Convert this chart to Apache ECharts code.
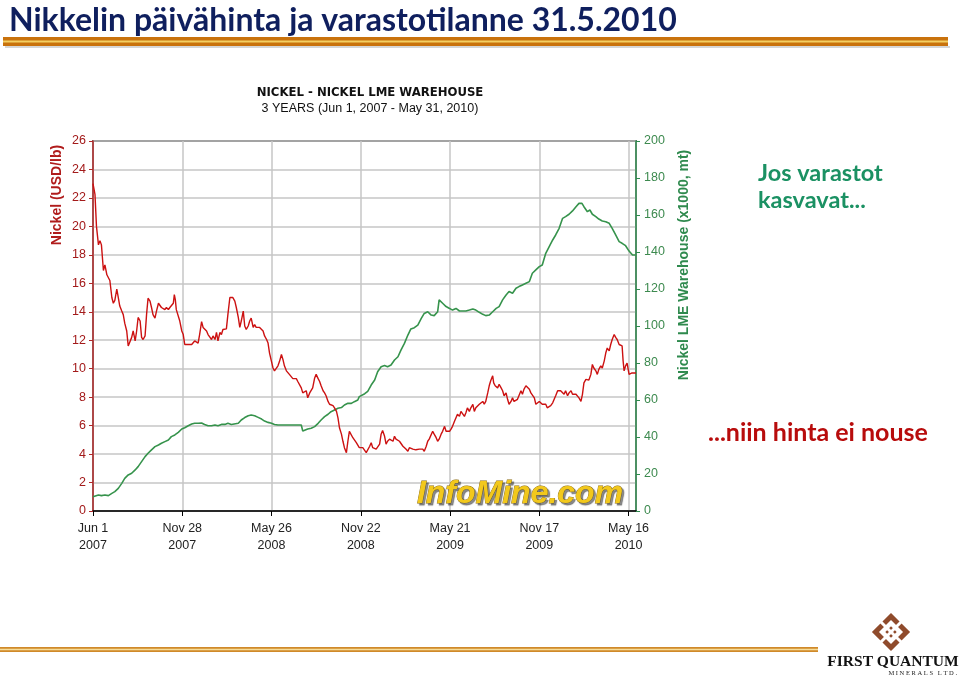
<!DOCTYPE html>
<html>
<head>
<meta charset="utf-8">
<script src="https://cdn.jsdelivr.net/npm/echarts@6/dist/echarts.min.js"></script>
<style>
  html, body { margin: 0; padding: 0; background: #fff; }
  #chart { width: 960px; height: 678px; }
</style>
</head>
<body>
<div id="chart"></div>
<script>
// days counted from Jun 1 2007
const xTickLabels = ['Jun 1\n2007', 'Nov 28\n2007', 'May 26\n2008', 'Nov 22\n2008', 'May 21\n2009', 'Nov 17\n2009', 'May 16\n2010']

// nickel price, USD/lb
const priceDays = [0, 4, 7, 11, 14, 17, 21, 24, 28, 31, 34, 38, 41, 44, 48, 51, 54, 58, 61, 64, 68, 71, 74, 78, 81, 85, 88, 91, 95, 98, 101, 105, 108, 111, 115, 118, 121, 125, 128, 132, 135, 138, 142, 145, 148, 152, 155, 158, 162, 164, 166, 168, 172, 175, 179, 182, 185, 189, 192, 195, 199, 202, 205, 209, 212, 215, 219, 222, 225, 229, 232, 236, 239, 242, 246, 249, 252, 256, 259, 262, 266, 269, 272, 276, 279, 282, 286, 289, 293, 296, 299, 303, 306, 309, 313, 316, 319, 323, 326, 329, 333, 336, 340, 343, 346, 350, 353, 356, 360, 363, 366, 370, 373, 376, 380, 383, 386, 390, 393, 396, 400, 403, 407, 410, 413, 417, 420, 423, 427, 430, 433, 437, 440, 443, 447, 450, 454, 457, 460, 464, 467, 470, 474, 477, 480, 484, 487, 491, 494, 497, 501, 504, 507, 511, 514, 517, 521, 524, 527, 531, 534, 537, 541, 544, 547, 551, 554, 558, 561, 564, 568, 571, 574, 578, 581, 584, 588, 591, 594, 598, 601, 605, 608, 611, 615, 618, 621, 625, 628, 631, 635, 638, 641, 645, 648, 651, 655, 658, 662, 665, 668, 672, 675, 678, 682, 685, 688, 692, 695, 698, 702, 705, 709, 712, 715, 719, 722, 725, 729, 732, 735, 739, 742, 745, 749, 752, 755, 759, 762, 766, 769, 772, 776, 779, 782, 786, 789, 792, 796, 799, 802, 806, 808, 811, 813, 816, 819, 823, 826, 829, 833, 836, 839, 843, 846, 849, 853, 856, 859, 863, 866, 869, 873, 876, 880, 883, 886, 890, 893, 896, 900, 903, 906, 910, 913, 916, 920, 923, 927, 930, 933, 937, 940, 943, 947, 950, 953, 957, 960, 964, 967, 970, 974, 977, 980, 984, 987, 990, 994, 997, 1000, 1004, 1007, 1010, 1014, 1017, 1020, 1024, 1027, 1031, 1034, 1037, 1041, 1044, 1047, 1051, 1054, 1057, 1061, 1064, 1067, 1069, 1071, 1074, 1077, 1081, 1084, 1087, 1091, 1095]
const priceValues = [23.0, 22.25, 20.0, 18.7, 19.0, 18.7, 16.9, 17.3, 16.6, 16.6, 16.2, 15.0, 14.6, 14.8, 15.6, 15.7, 14.4, 14.05, 13.8, 13.2, 12.65, 11.6, 11.5, 12.2, 12.65, 11.95, 12.65, 13.6, 13.35, 12.2, 12.05, 12.3, 13.8, 14.95, 14.75, 14.3, 13.8, 13.55, 14.05, 14.6, 14.5, 14.3, 14.4, 14.15, 14.3, 14.15, 14.3, 14.4, 14.6, 15.2, 14.85, 14.15, 14.05, 13.35, 12.65, 12.4, 11.7, 11.6, 11.7, 11.65, 11.7, 11.8, 11.95, 12.05, 11.8, 12.4, 13.3, 12.9, 12.9, 12.65, 12.4, 12.2, 12.05, 12.3, 12.05, 12.55, 11.95, 12.55, 12.4, 12.75, 12.7, 12.8, 13.8, 15.0, 15.1, 15.0, 14.75, 14.3, 13.6, 12.9, 13.35, 14.05, 13.0, 12.76, 13.0, 13.35, 13.55, 12.9, 13.1, 12.9, 13.0, 12.9, 12.76, 12.65, 12.3, 12.05, 11.8, 11.1, 10.5, 10.05, 9.85, 9.95, 10.2, 10.5, 11.0, 10.65, 10.2, 9.85, 9.85, 9.6, 9.5, 9.3, 9.25, 9.3, 9.1, 9.0, 8.65, 8.3, 8.2, 8.45, 7.95, 8.3, 8.2, 8.65, 9.35, 9.6, 9.3, 9.1, 8.8, 8.45, 8.3, 8.1, 7.7, 7.5, 7.5, 7.4, 7.25, 7.0, 6.55, 5.85, 5.4, 4.9, 4.45, 4.1, 4.9, 5.6, 5.5, 5.15, 5.25, 4.8, 4.7, 4.45, 4.55, 4.45, 4.35, 4.1, 4.0, 4.55, 4.8, 4.45, 4.35, 4.35, 4.35, 4.7, 5.4, 5.65, 5.25, 4.7, 4.9, 5.05, 5.15, 4.9, 5.25, 5.05, 5.15, 4.9, 4.8, 4.55, 4.45, 4.35, 4.2, 4.45, 4.35, 4.35, 4.4, 4.3, 4.4, 4.35, 4.45, 4.35, 4.2, 4.55, 4.9, 5.05, 5.15, 5.6, 5.4, 5.15, 4.9, 5.05, 5.4, 5.6, 5.95, 5.6, 5.5, 5.6, 5.75, 5.95, 6.3, 6.55, 6.8, 6.65, 7.0, 6.9, 6.65, 6.9, 7.25, 7.0, 7.25, 7.5, 7.0, 7.25, 7.15, 7.5, 7.6, 7.7, 7.5, 7.7, 8.3, 8.8, 9.15, 9.5, 9.0, 8.8, 8.9, 8.65, 8.9, 8.65, 8.45, 8.1, 8.3, 7.85, 7.5, 7.7, 7.95, 7.7, 7.6, 7.85, 7.95, 8.45, 8.2, 8.55, 8.8, 8.85, 8.55, 8.3, 8.2, 7.95, 7.5, 7.4, 7.7, 7.6, 7.5, 7.4, 7.5, 7.25, 7.15, 7.4, 7.6, 7.85, 8.1, 8.45, 8.55, 8.45, 8.5, 8.2, 8.45, 8.1, 8.3, 8.45, 8.2, 8.3, 8.2, 8.1, 7.95, 7.7, 8.2, 9.0, 9.25, 9.15, 9.2, 9.6, 10.3, 10.05, 9.85, 9.6, 9.95, 10.2, 10.05, 10.55, 11.1, 11.45, 11.25, 11.7, 12.05, 12.4, 12.2, 12.05, 11.7, 11.65, 11.6, 10.55, 9.85, 10.2, 10.4, 9.6, 9.5, 9.7, 9.8, 9.7]

// LME warehouse stocks, x1000 t
const stockDays = [0, 11, 17, 24, 31, 38, 44, 51, 58, 64, 71, 78, 85, 91, 98, 105, 111, 118, 125, 132, 138, 145, 152, 158, 165, 172, 179, 185, 192, 199, 205, 212, 219, 225, 232, 239, 246, 252, 259, 266, 272, 279, 293, 299, 306, 313, 319, 326, 333, 340, 346, 353, 360, 366, 373, 380, 386, 393, 400, 407, 413, 420, 423, 427, 433, 440, 447, 454, 460, 467, 474, 480, 487, 494, 501, 507, 514, 521, 527, 534, 537, 541, 548, 554, 561, 568, 574, 581, 588, 594, 601, 608, 615, 621, 628, 635, 641, 648, 655, 662, 668, 675, 682, 688, 695, 698, 705, 712, 719, 725, 732, 739, 745, 752, 759, 766, 772, 779, 786, 792, 799, 806, 813, 819, 826, 833, 839, 846, 853, 859, 866, 873, 880, 886, 893, 900, 906, 913, 920, 927, 933, 940, 947, 953, 960, 967, 974, 980, 986, 990, 997, 1002, 1007, 1014, 1020, 1027, 1034, 1041, 1047, 1054, 1061, 1067, 1074, 1081, 1088, 1095]
const stockValues = [7.7, 8.65, 8.3, 8.65, 8.3, 9.5, 10.45, 12.25, 14.95, 17.65, 19.5, 20.4, 22.2, 24.0, 26.7, 29.4, 31.2, 33.0, 34.8, 35.7, 36.6, 37.5, 38.4, 40.2, 41.1, 42.5, 44.3, 45.0, 46.1, 47.0, 47.4, 47.4, 47.6, 46.8, 46.1, 46.1, 46.5, 46.1, 46.8, 46.8, 47.4, 46.8, 47.4, 49.2, 50.5, 51.5, 51.9, 51.5, 50.6, 49.7, 48.6, 47.9, 47.4, 46.8, 46.5, 46.5, 46.5, 46.5, 46.5, 46.5, 46.5, 46.5, 43.2, 43.8, 44.3, 44.7, 45.6, 47.4, 49.2, 51.0, 52.3, 53.7, 54.6, 55.5, 55.9, 57.3, 58.2, 58.2, 59.1, 60.0, 61.8, 62.7, 63.4, 64.7, 68.1, 70.8, 75.3, 78.0, 78.6, 78.0, 78.9, 81.6, 83.4, 87.0, 90.6, 95.1, 98.4, 99.1, 100.5, 104.1, 106.8, 107.7, 105.9, 105.6, 107.7, 114.1, 112.3, 110.5, 109.5, 108.6, 109.5, 108.1, 108.1, 108.1, 108.6, 109.2, 108.6, 107.4, 106.3, 105.6, 105.9, 107.7, 109.5, 110.5, 114.1, 116.8, 118.6, 117.7, 120.4, 121.3, 122.2, 123.1, 124.0, 128.5, 130.3, 132.1, 133.0, 139.3, 142.9, 146.5, 149.2, 152.8, 158.2, 159.1, 160.4, 162.2, 164.5, 166.3, 166.3, 164.5, 161.8, 162.7, 160.4, 159.1, 157.8, 156.8, 156.4, 155.5, 152.8, 149.2, 145.6, 144.7, 143.4, 140.5, 138.4, 138.4]

const priceData = priceDays.map((d, i) => [d, priceValues[i]])
const stockData = stockDays.map((d, i) => [d, stockValues[i]])

const redText = '#a31a1a'
const greenText = '#3d8a4f'
const axisFont = "'Liberation Sans', Arial, sans-serif"

const chart = echarts.init(document.getElementById('chart'))
chart.setOption({
  backgroundColor: '#fff',
  animation: false,
  title: [
    {
      text: 'Nikkelin päivähinta ja varastotilanne 31.5.2010',
      left: 4,
      top: 0,
      textStyle: { color: '#0f1f5e', fontSize: 32, fontWeight: 'bold', fontFamily: 'Lato, sans-serif' },
    },
    {
      text: 'NICKEL - NICKEL LME WAREHOUSE',
      subtext: '3 YEARS (Jun 1, 2007 - May 31, 2010)',
      left: 365,
      top: 81,
      textAlign: 'center',
      itemGap: 3,
      textStyle: { color: '#111', fontSize: 13, fontWeight: 'bold', fontFamily: "'Liberation Sans Narrow', 'DejaVu Sans Condensed', 'Liberation Sans', sans-serif" },
      subtextStyle: { color: '#111', fontSize: 12.5, fontFamily: axisFont },
    },
  ],
  grid: {
    left: 93, right: 324, top: 141, bottom: 167,
    show: true, borderColor: '#000', borderWidth: 1.5,
  },
  xAxis: {
    type: 'value',
    min: 0,
    max: 1095,
    interval: 180,
    axisLine: { lineStyle: { color: '#000', width: 1.5 } },
    axisTick: { length: 5, lineStyle: { color: '#000' } },
    axisLabel: {
      color: '#222', fontSize: 12.5, fontFamily: axisFont, lineHeight: 17, margin: 9,
      showMaxLabel: false,
      formatter: v => (v % 180 === 0 ? xTickLabels[v / 180] : ''),
    },
    splitLine: { lineStyle: { color: '#c6c6c6', width: 1.5 } },
  },
  yAxis: [
    {
      type: 'value',
      min: 0, max: 26, interval: 2,
      axisLine: { show: true, lineStyle: { color: '#b02a2a', width: 1.5 } },
      axisTick: { show: true, length: 4, lineStyle: { color: '#b02a2a' } },
      axisLabel: { color: redText, fontSize: 12.5, fontFamily: axisFont, margin: 7 },
      splitLine: { lineStyle: { color: '#c6c6c6', width: 1.5 } },
    },
    {
      type: 'value',
      position: 'right',
      min: 0, max: 200, interval: 20,
      axisLine: { show: true, lineStyle: { color: '#2f8a4e', width: 1.5 } },
      axisTick: { show: true, length: 4, lineStyle: { color: '#2f8a4e' } },
      axisLabel: { color: greenText, fontSize: 12.5, fontFamily: axisFont, margin: 8 },
      splitLine: { show: false },
    },
  ],
  series: [
    {
      name: 'LME Warehouse',
      type: 'line',
      yAxisIndex: 1,
      data: stockData,
      showSymbol: false,
      lineStyle: { color: '#36934c', width: 1.6 },
      z: 2,
    },
    {
      name: 'Nickel',
      type: 'line',
      yAxisIndex: 0,
      data: priceData,
      showSymbol: false,
      lineStyle: { color: '#cc1111', width: 1.4 },
      z: 3,
    },
  ],
  graphic: [
    // slide header bar
    { type: 'rect', shape: { x: 3, y: 37, width: 945, height: 9 }, style: { fill: '#c9720c' } },
    { type: 'rect', shape: { x: 3, y: 40.5, width: 945, height: 2 }, style: { fill: '#f4cf62' } },
    { type: 'rect', shape: { x: 5, y: 46, width: 945, height: 2 }, style: { fill: '#d6d6d6' } },
    // footer lines
    { type: 'rect', shape: { x: 0, y: 647, width: 818, height: 5 }, style: { fill: '#d08a2a' } },
    { type: 'rect', shape: { x: 0, y: 648.8, width: 818, height: 1.4 }, style: { fill: '#f6dd9a' } },
    // axis names
    {
      type: 'text', x: 57, y: 195, rotation: Math.PI / 2,
      style: { text: 'Nickel (USD/lb)', fill: '#b01c1c', font: "bold 14px 'Liberation Sans', Arial, sans-serif", textAlign: 'center', textVerticalAlign: 'middle' },
    },
    {
      type: 'text', x: 684, y: 265, rotation: Math.PI / 2,
      style: { text: 'Nickel LME Warehouse (x1000, mt)', fill: '#2f8a4e', font: "bold 14px 'Liberation Sans', Arial, sans-serif", textAlign: 'center', textVerticalAlign: 'middle' },
    },
    // watermark
    {
      type: 'text', x: 520, y: 494, z: 10,
      style: {
        text: 'InfoMine.com', fill: '#f2c81c', stroke: '#8a6a10', lineWidth: 0.8,
        font: "italic bold 32px 'Liberation Sans', Arial, sans-serif",
        textAlign: 'center', textVerticalAlign: 'middle',
        textShadowColor: 'rgba(60,60,60,0.6)', textShadowOffsetX: 2, textShadowOffsetY: 2, textShadowBlur: 1,
      },
    },
    // annotations
    {
      type: 'text', x: 758, y: 160,
      style: { text: 'Jos varastot\nkasvavat...', fill: '#1b9163', font: 'bold 23.5px Lato, sans-serif', lineHeight: 27 },
    },
    {
      type: 'text', x: 708, y: 420,
      style: { text: '...niin hinta ei nouse', fill: '#b80c0c', font: 'bold 25px Lato, sans-serif' },
    },
    // company logo
    {
      type: 'group', x: 891, y: 632,
      children: [
        { type: 'rect', rotation: Math.PI / 4, shape: { x: -11, y: -11, width: 22, height: 22 }, style: { fill: 'none', stroke: '#8f4b2c', lineWidth: 5 } },
        { type: 'rect', rotation: Math.PI / 4, shape: { x: -4, y: -4, width: 8, height: 8 }, style: { fill: '#8f4b2c' } },
        { type: 'rect', rotation: Math.PI / 4, shape: { x: -1.5, y: -16, width: 3, height: 32 }, style: { fill: '#fff' } },
        { type: 'rect', rotation: Math.PI / 4, shape: { x: -16, y: -1.5, width: 32, height: 3 }, style: { fill: '#fff' } },
      ],
    },
    {
      type: 'text', x: 893, y: 662,
      style: { text: 'FIRST QUANTUM', fill: '#111', font: "bold 15.5px 'Liberation Serif', serif", textAlign: 'center', textVerticalAlign: 'middle' },
    },
    {
      type: 'text', x: 957, y: 673,
      style: { text: 'M I N E R A L S   L T D .', fill: '#222', font: "6.5px 'Liberation Serif', serif", textAlign: 'right', textVerticalAlign: 'middle' },
    },
  ],
})
window.addEventListener('resize', () => chart.resize())
</script>
</body>
</html>
